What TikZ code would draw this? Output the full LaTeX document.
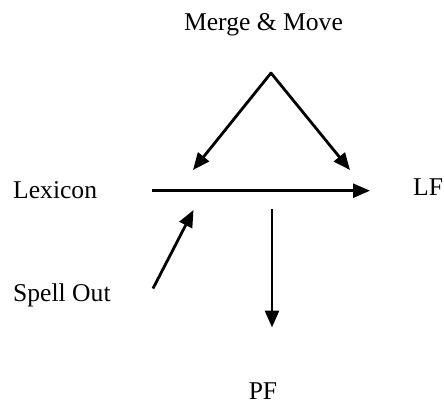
\documentclass[tikz,border=0pt]{standalone}
\usepackage{fontspec}
\setmainfont{Liberation Serif}
\usetikzlibrary{arrows.meta}
\tikzset{
  label text/.style={inner sep=0pt, font=\fontsize{25.6}{30}\selectfont},
  flow/.style={line width=2.8pt, -{Triangle[length=17pt,width=14pt]}}
}
\begin{document}
\begin{tikzpicture}[x=1pt,y=-1pt]
  \useasboundingbox (0,0) rectangle (444,400);
  % labels
  \node[label text, anchor=base] (merge) at (263.5,30) {Merge \& Move};
  \node[label text, anchor=base west] (lex) at (13,198) {Lexicon};
  \node[label text, anchor=base west] (lf) at (413,195.5) {LF};
  \node[label text, anchor=base west] (spell) at (13,301.5) {Spell Out};
  \node[label text, anchor=base] (pf) at (263,399) {PF};
  % arrow end points
  \coordinate (apex) at (271,73);
  \coordinate (mmL) at (193,170);
  \coordinate (mmR) at (350,170);
  \coordinate (lineA) at (152,190.7);
  \coordinate (lineB) at (370,190.7);
  \coordinate (soA) at (153,288.5);
  \coordinate (soB) at (193.5,210);
  \coordinate (pfA) at (272,209);
  \coordinate (pfB) at (272,327.5);
  % arrows
  \draw[flow, line cap=round] (apex) -- (mmL);
  \draw[flow, line cap=round] (apex) -- (mmR);
  \draw[flow] (lineA) -- (lineB);
  \draw[flow] (soA) -- (soB);
  \draw[flow] (pfA) -- (pfB);
\end{tikzpicture}
\end{document}
